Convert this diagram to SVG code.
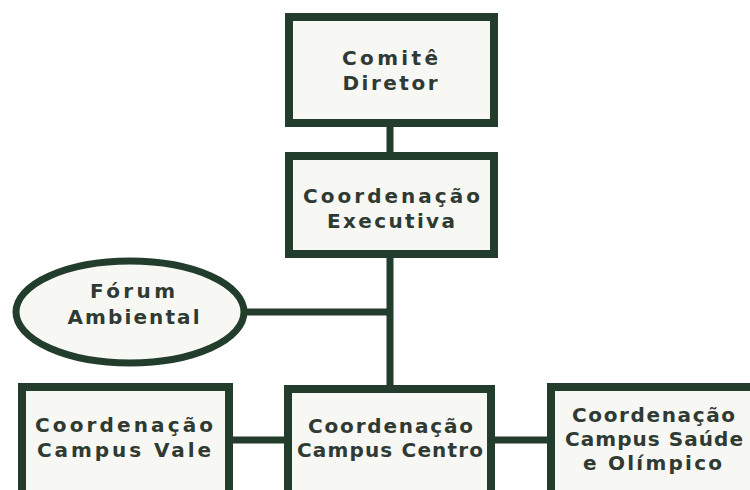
<svg xmlns="http://www.w3.org/2000/svg" width="750" height="490" viewBox="0 0 750 490">
<style>
.box{fill:#f7f7f3;stroke:#233d2c;stroke-width:8}
.conn line{stroke:#233d2c;stroke-width:7}
text{font-family:"DejaVu Sans",Verdana,sans-serif;font-weight:bold;font-size:20px;fill:#2f3a33;text-anchor:middle}
</style>
<rect width="750" height="490" fill="#ffffff"/>
<g id="connectors" class="conn">
<line x1="390" y1="125" x2="390" y2="156"/>
<line x1="390" y1="256" x2="390" y2="389"/>
<line x1="242" y1="312" x2="390" y2="312"/>
<line x1="229" y1="440" x2="288" y2="440"/>
<line x1="491" y1="440" x2="551" y2="440"/>
</g>
<g id="comite">
<rect class="box" x="289" y="17" width="205" height="106"/>
<text x="390" y="65" textLength="96" lengthAdjust="spacing">Comitê</text>
<text x="390" y="90" textLength="95" lengthAdjust="spacing">Diretor</text>
</g>
<g id="executiva">
<rect class="box" x="289" y="156" width="205" height="98"/>
<text x="391.5" y="203" textLength="177" lengthAdjust="spacing">Coordenação</text>
<text x="391" y="228" textLength="128" lengthAdjust="spacing">Executiva</text>
</g>
<g id="forum">
<ellipse cx="130" cy="312" rx="114" ry="51" fill="#f7f7f3" stroke="#233d2c" stroke-width="7"/>
<text x="132.5" y="298" textLength="85" lengthAdjust="spacing">Fórum</text>
<text x="133.5" y="324" textLength="132" lengthAdjust="spacing">Ambiental</text>
</g>
<g id="vale">
<rect class="box" x="22" y="387" width="207" height="130"/>
<text x="124" y="432" textLength="178" lengthAdjust="spacing">Coordenação</text>
<text x="124" y="457" textLength="174" lengthAdjust="spacing">Campus Vale</text>
</g>
<g id="centro">
<rect class="box" x="288" y="389" width="203" height="130"/>
<text x="390.5" y="433" textLength="165" lengthAdjust="spacing">Coordenação</text>
<text x="390" y="457" textLength="186" lengthAdjust="spacing">Campus Centro</text>
</g>
<g id="saude">
<rect class="box" x="551" y="387" width="205" height="130"/>
<text x="653.5" y="422" textLength="163" lengthAdjust="spacing">Coordenação</text>
<text x="654" y="446" textLength="178" lengthAdjust="spacing">Campus Saúde</text>
<text x="652.5" y="470" textLength="139" lengthAdjust="spacing">e Olímpico</text>
</g>
</svg>
